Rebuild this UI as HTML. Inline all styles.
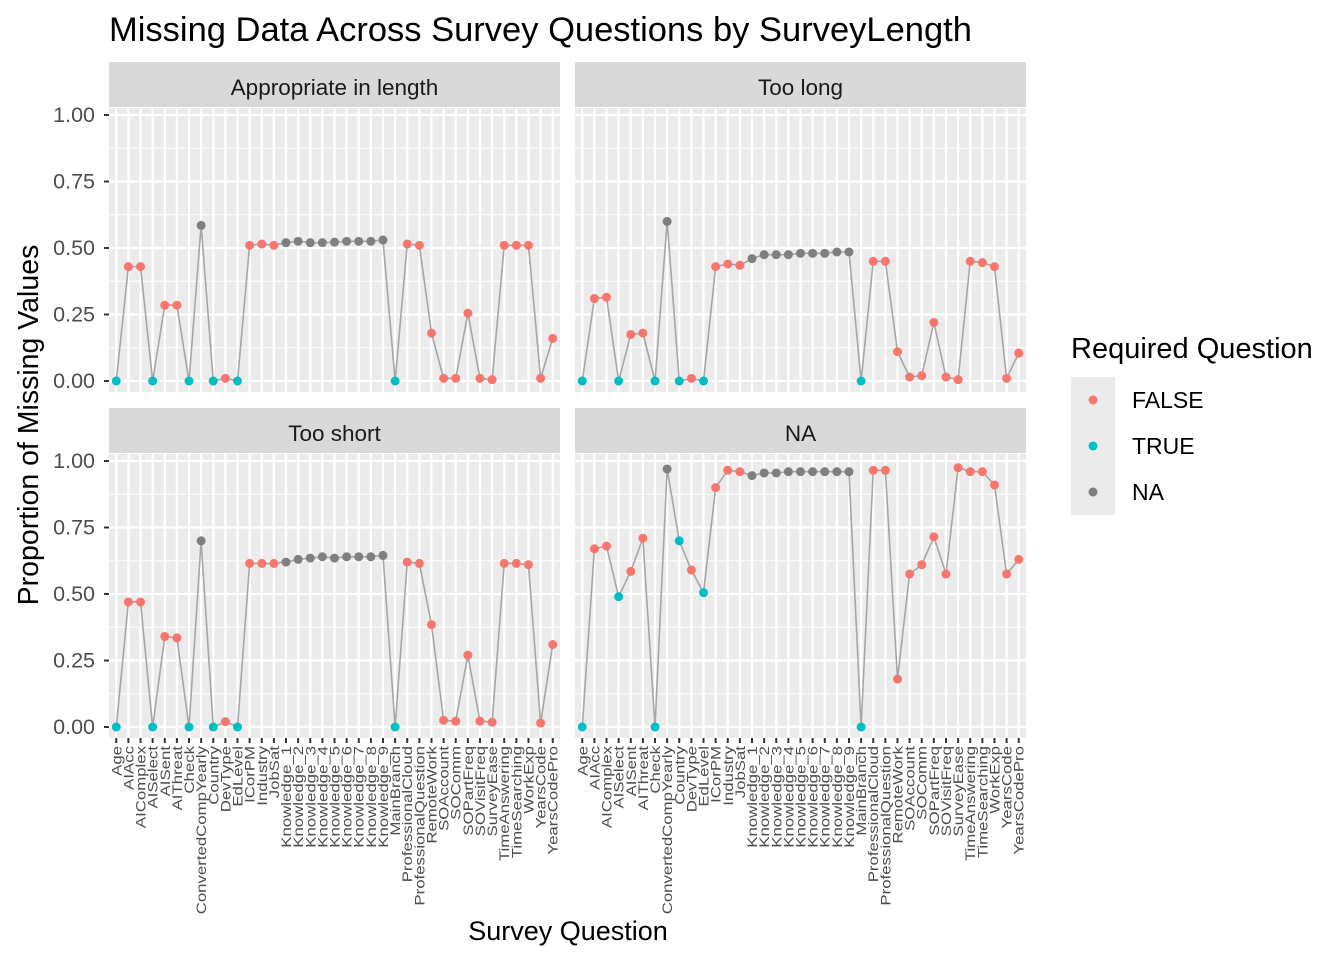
<!DOCTYPE html>
<html><head><meta charset="utf-8">
<style>body{margin:0;background:#fff;}svg{display:block;font-family:"Liberation Sans",Arial,sans-serif;}</style>
</head><body>
<svg id="chart" width="1344" height="960" viewBox="0 0 1344 960"></svg>
<script>
const categories=["Age","AIAcc","AIComplex","AISelect","AISent","AIThreat","Check","ConvertedCompYearly","Country","DevType","EdLevel","ICorPM","Industry","JobSat","Knowledge_1","Knowledge_2","Knowledge_3","Knowledge_4","Knowledge_5","Knowledge_6","Knowledge_7","Knowledge_8","Knowledge_9","MainBranch","ProfessionalCloud","ProfessionalQuestion","RemoteWork","SOAccount","SOComm","SOPartFreq","SOVisitFreq","SurveyEase","TimeAnswering","TimeSearching","WorkExp","YearsCode","YearsCodePro"];
const required=["TRUE","FALSE","FALSE","TRUE","FALSE","FALSE","TRUE","NA","TRUE","FALSE","TRUE","FALSE","FALSE","FALSE","NA","NA","NA","NA","NA","NA","NA","NA","NA","TRUE","FALSE","FALSE","FALSE","FALSE","FALSE","FALSE","FALSE","FALSE","FALSE","FALSE","FALSE","FALSE","FALSE"];
const panelTitles=["Appropriate in length","Too long","Too short","NA"];
const valsAppropriate=[0,0.43,0.43,0,0.285,0.285,0,0.585,0,0.01,0,0.51,0.515,0.51,0.52,0.525,0.52,0.52,0.522,0.525,0.525,0.525,0.53,0,0.515,0.51,0.18,0.01,0.01,0.255,0.01,0.005,0.51,0.51,0.51,0.01,0.16];
const valsTooLong=[0,0.31,0.315,0,0.175,0.18,0,0.60,0,0.01,0,0.43,0.44,0.435,0.46,0.475,0.475,0.475,0.48,0.48,0.48,0.485,0.485,0,0.45,0.45,0.11,0.015,0.02,0.22,0.015,0.005,0.45,0.445,0.43,0.01,0.105];
const valsTooShort=[0,0.47,0.47,0,0.34,0.335,0,0.70,0,0.02,0,0.615,0.615,0.615,0.62,0.63,0.635,0.64,0.635,0.64,0.64,0.64,0.645,0,0.62,0.615,0.385,0.025,0.022,0.27,0.022,0.018,0.615,0.615,0.61,0.015,0.31];
const valsNA=[0,0.67,0.68,0.49,0.585,0.71,0,0.97,0.70,0.59,0.505,0.90,0.965,0.96,0.945,0.955,0.955,0.96,0.96,0.96,0.96,0.96,0.96,0,0.965,0.965,0.18,0.575,0.61,0.715,0.575,0.975,0.96,0.96,0.91,0.575,0.63];
const yTicks=[0,0.25,0.5,0.75,1];
const yTickLabels=["0.00","0.25","0.50","0.75","1.00"];
const legendLevels=["FALSE","TRUE","NA"];
const allVals=[valsAppropriate,valsTooLong,valsTooShort,valsNA];
const colors={"FALSE":"#F8766D","TRUE":"#00BFC4","NA":"#7F7F7F"};
const NS="http://www.w3.org/2000/svg";
const svg=document.getElementById('chart');
function mk(tag,attrs,parent,text){const e=document.createElementNS(NS,tag);for(const k in attrs)e.setAttribute(k,attrs[k]);if(text!==undefined)e.textContent=text;(parent||svg).appendChild(e);return e;}
const panels=[{x:109,y:108},{x:575,y:108},{x:109,y:454},{x:575,y:454}];
const PW=451,PH=284;
panels.forEach((p,pi)=>{
  const g=mk('g',{});
  
  
  const xs=i=>p.x+(i+0.6)*PW/37.2;
  const ys=v=>p.y+7+(1-v)*266;
  const strip=mk('rect',{x:p.x,y:p.y-46,width:PW,height:45,fill:'#D9D9D9'},g);
  
  const st=mk('text',{x:p.x+PW/2,y:p.y-13,'text-anchor':'middle','font-size':'22.5',fill:'#1a1a1a'},g,panelTitles[pi]);
  
  mk('rect',{x:p.x,y:p.y,width:PW,height:PH,fill:'#EBEBEB'},g);
  for(let k=0;k<4;k++){const v=(yTicks[k]+yTicks[k+1])/2;mk('line',{x1:p.x,x2:p.x+PW,y1:ys(v),y2:ys(v),stroke:'#fff','stroke-width':1},g);}
  yTicks.forEach(v=>mk('line',{x1:p.x,x2:p.x+PW,y1:ys(v),y2:ys(v),stroke:'#fff','stroke-width':2.2},g));
  categories.forEach((c,i)=>mk('line',{x1:xs(i),x2:xs(i),y1:p.y,y2:p.y+PH,stroke:'#fff','stroke-width':2.2},g));
  if(p.x<300){yTicks.forEach((v,k)=>{mk('line',{x1:p.x-5,x2:p.x,y1:ys(v),y2:ys(v),stroke:'#333','stroke-width':2},g);
    const t=mk('text',{x:p.x-14,y:ys(v)+7,'text-anchor':'end','font-size':'21.5',fill:'#4d4d4d'},g,yTickLabels[k]);
    });}
  if(p.y>300){categories.forEach((c,i)=>{mk('line',{x1:xs(i),x2:xs(i),y1:p.y+PH,y2:p.y+PH+5,stroke:'#333','stroke-width':2},g);
    const t=mk('text',{transform:`translate(${xs(i)+5},${p.y+PH+8}) rotate(-90) scale(1.2,1)`,'text-anchor':'end','font-size':'14',fill:'#4d4d4d'},g,c);
    });}
  const vals=allVals[pi];
  const line=mk('polyline',{points:vals.map((v,i)=>xs(i)+','+ys(v)).join(' '),fill:'none',stroke:'#A6A6A6','stroke-width':1.6},g);
  
  vals.forEach((v,i)=>{const c=mk('circle',{cx:xs(i),cy:ys(v),r:4.5,fill:colors[required[i]]},g);
    });
});
let t=mk('text',{x:109,y:41,'font-size':'34.5',fill:'#000'},svg,'Missing Data Across Survey Questions by SurveyLength');

t=mk('text',{x:568,y:940,'text-anchor':'middle','font-size':'27',fill:'#000'},svg,'Survey Question');

t=mk('text',{transform:'translate(38,425) rotate(-90)','text-anchor':'middle','font-size':'28.5',fill:'#000'},svg,'Proportion of Missing Values');

t=mk('text',{x:1071,y:358,'font-size':'29','fill':'#000'},svg,'Required Question');

legendLevels.forEach((l,k)=>{const y=377+k*46;
  const g=mk('g',{});
  mk('rect',{x:1071,y:y,width:44,height:46,fill:'#EBEBEB'},g);
  mk('circle',{cx:1093,cy:y+23,r:4.5,fill:colors[l]},g);
  mk('text',{x:1132,y:y+31,'font-size':'23',fill:'#000'},g,l);});
</script>
</body></html>
